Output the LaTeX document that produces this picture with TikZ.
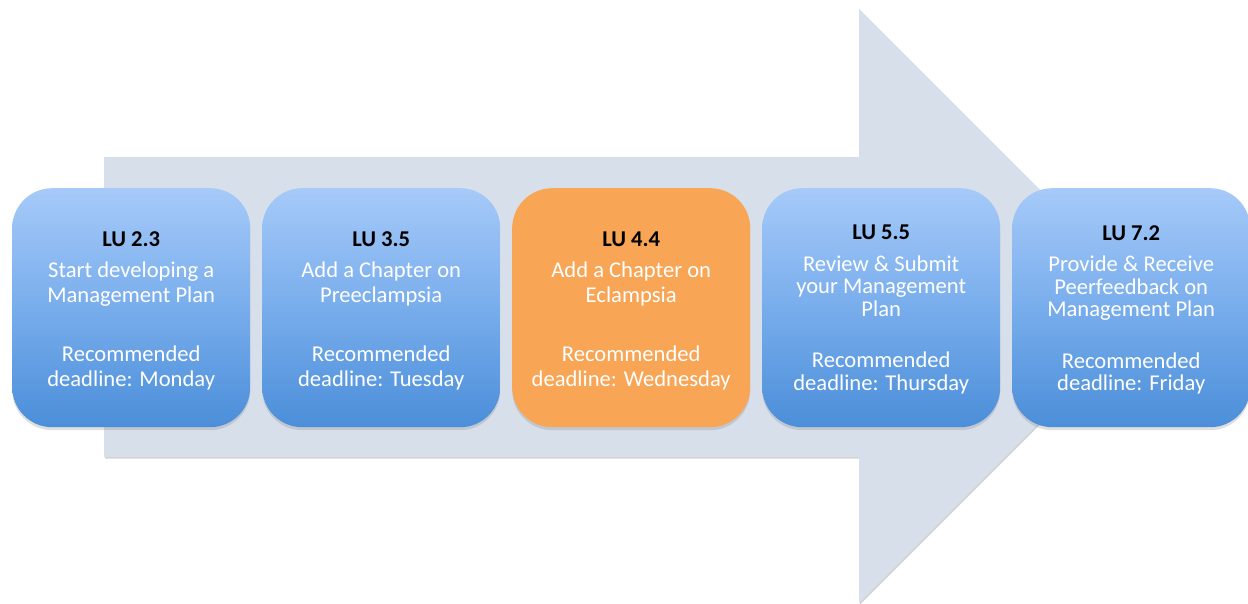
\documentclass[tikz,border=0pt]{standalone}
\usepackage{fontspec}
\setmainfont{Carlito}
\usetikzlibrary{shadows}
\definecolor{arrowfill}{HTML}{D7DFEB}
\definecolor{bluetop}{HTML}{A6CAF9}
\definecolor{bluemid}{HTML}{78ADEC}
\definecolor{bluebot}{HTML}{4B8ED9}
\definecolor{orangefill}{HTML}{F8A555}
\tikzset{
  lubox/.style={rounded corners=40pt, minimum width=238pt, minimum height=239pt,
    inner sep=0pt, anchor=north west,
    drop shadow={shadow xshift=0pt, shadow yshift=-3pt, opacity=0.25}},
  bluebox/.style={lubox, top color=bluetop, bottom color=bluebot, middle color=bluemid},
  orangebox/.style={lubox, fill=orangefill},
  lutext/.style={align=center, text=white, inner sep=0pt},
  fa/.style={lutext, font=\fontsize{22.6}{25}\selectfont, yshift=-3pt},
  fb/.style={lutext, font=\fontsize{22.6}{22.5}\selectfont, yshift=-2pt},
  bigarrow/.style={fill=arrowfill, drop shadow={shadow xshift=1pt, shadow yshift=-1.5pt, opacity=0.35}}
}
\newcommand{\ttl}[1]{{\color{black}\bfseries #1}}
\begin{document}
\begin{tikzpicture}[x=1pt,y=-1pt]
\useasboundingbox (0,0) rectangle (1248,604);
\path[bigarrow] (104,157) -- (859,157) -- (859,9) -- (1156,306) -- (859,603) -- (859,457) -- (104,457) -- cycle;
\node[bluebox] (b1) at (12,188) {};
\node[bluebox] (b2) at (262,188) {};
\node[orangebox] (b3) at (512,188) {};
\node[bluebox] (b4) at (762,188) {};
\node[bluebox] (b5) at (1012,188) {};
\node[fa] (t1) at (b1.center) {\ttl{LU 2.3}\\[6pt]Start developing a\\Management Plan\\[34pt]Recommended\\deadline: Monday};
\node[fa] (t2) at (b2.center) {\ttl{LU 3.5}\\[6pt]Add a Chapter on\\Preeclampsia\\[34pt]Recommended\\deadline: Tuesday};
\node[fa] (t3) at (b3.center) {\ttl{LU 4.4}\\[6pt]Add a Chapter on\\Eclampsia\\[34pt]Recommended\\deadline: Wednesday};
\node[fb] (t4) at (b4.center) {\ttl{LU 5.5}\\[9pt]Review \& Submit\\your Management\\Plan\\[29pt]Recommended\\deadline: Thursday};
\node[fb] (t5) at (b5.center) {\ttl{LU 7.2}\\[9pt]Provide \& Receive\\Peerfeedback on\\Management Plan\\[29pt]Recommended\\deadline: Friday};
\end{tikzpicture}
\end{document}
